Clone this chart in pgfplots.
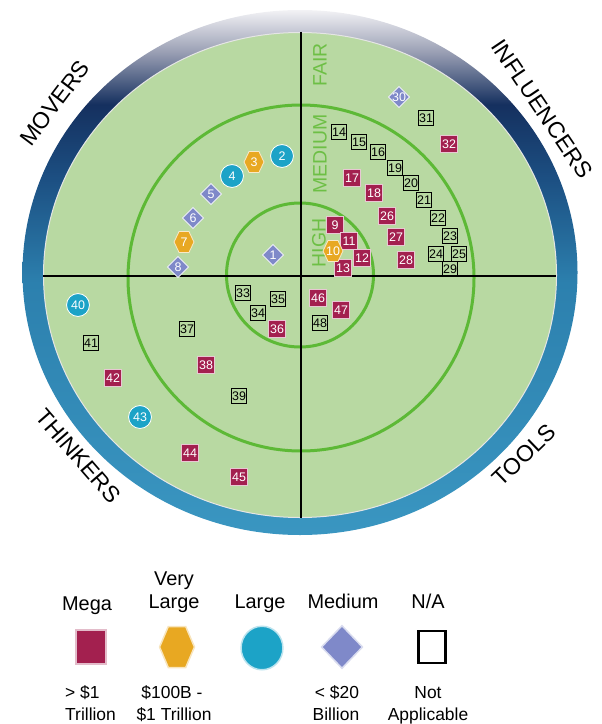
\documentclass[border=0pt]{standalone}
\usepackage{pgfplots}
\pgfplotsset{compat=1.18}
\usepackage{fontspec}
\setmainfont{Liberation Sans}

\definecolor{mega}{HTML}{A3204F}
\definecolor{vlarge}{HTML}{E8A822}
\definecolor{large}{HTML}{1CA3C7}
\definecolor{medium}{HTML}{7F89C9}
\definecolor{disk}{HTML}{B8D9A2}
\definecolor{ringc}{HTML}{5DB936}
\definecolor{zone}{HTML}{6DBF45}
\definecolor{rbot}{HTML}{3A96C1}
\definecolor{rmid}{HTML}{2C80AE}
\definecolor{rdark}{HTML}{1C4F82}
\definecolor{rnavy}{HTML}{15305F}
\definecolor{rgray}{HTML}{9A9FB4}
\definecolor{rtop}{HTML}{F2F2F5}

\pgfdeclareverticalshading{ringshade}{100bp}{color(0bp)=(rbot); color(25bp)=(rbot); color(49bp)=(rmid); color(59bp)=(rdark); color(66bp)=(rnavy); color(71bp)=(rgray); color(75bp)=(rtop); color(100bp)=(rtop)}

% flat-topped hexagon and square diamond marks
\pgfdeclareplotmark{hexa*}{%
  \pgfpathmoveto{\pgfqpoint{\pgfplotmarksize}{0pt}}%
  \pgfpathlineto{\pgfqpoint{.5\pgfplotmarksize}{1.05\pgfplotmarksize}}%
  \pgfpathlineto{\pgfqpoint{-.5\pgfplotmarksize}{1.05\pgfplotmarksize}}%
  \pgfpathlineto{\pgfqpoint{-\pgfplotmarksize}{0pt}}%
  \pgfpathlineto{\pgfqpoint{-.5\pgfplotmarksize}{-1.05\pgfplotmarksize}}%
  \pgfpathlineto{\pgfqpoint{.5\pgfplotmarksize}{-1.05\pgfplotmarksize}}%
  \pgfpathclose
  \pgfusepathqfillstroke}
\pgfdeclareplotmark{dia*}{%
  \pgfpathmoveto{\pgfqpoint{\pgfplotmarksize}{0pt}}%
  \pgfpathlineto{\pgfqpoint{0pt}{\pgfplotmarksize}}%
  \pgfpathlineto{\pgfqpoint{-\pgfplotmarksize}{0pt}}%
  \pgfpathlineto{\pgfqpoint{0pt}{-\pgfplotmarksize}}%
  \pgfpathclose
  \pgfusepathqfillstroke}

\newcommand{\numfont}{\fontsize{12.5}{12.5}\selectfont}
\newcommand{\quadfont}{\fontsize{23}{23}\selectfont}
\newcommand{\zonefont}{\fontsize{19.5}{19.5}\selectfont}
\newcommand{\legfont}{\fontsize{20}{20}\selectfont}
\newcommand{\descfont}{\fontsize{17.5}{17.5}\selectfont}

\pgfplotsset{
  labelled/.style={only marks,
    visualization depends on={value \thisrow{n}\as\lbl},
    nodes near coords={\lbl},
    nodes near coords style={anchor=center, inner sep=0pt, font=\numfont, text=#1}},
}

\begin{document}
\begin{tikzpicture}
\useasboundingbox (0,0) rectangle (602bp,724bp);
\begin{axis}[at={(0,0)}, anchor=south west, scale only axis,
  width=602bp, height=724bp,
  xmin=0, xmax=602, ymin=0, ymax=724, y dir=reverse,
  hide axis, clip=false]

% background rings and cross
\shade[shading=ringshade] (axis cs:300,272.5) ellipse [x radius=277.5bp, y radius=262.5bp];
\fill[disk, draw=white!80!gray, line width=1bp] (axis cs:300,275) ellipse [x radius=256.5bp, y radius=242.5bp];
\draw[ringc, line width=3bp] (axis cs:301,278) circle [radius=173bp];
\draw[ringc, line width=3bp] (axis cs:300,275) ellipse [x radius=73.5bp, y radius=72bp];
\draw[black, line width=2bp] (axis cs:43,276) -- (axis cs:556,276);
\draw[black, line width=2bp] (axis cs:301,32) -- (axis cs:301,518);

% zone and quadrant labels
\node[rotate=90, text=zone, font=\zonefont] at (axis cs:320,65) {FAIR};
\node[rotate=90, text=zone, font=\zonefont] at (axis cs:320,154) {MEDIUM};
\node[rotate=90, text=zone, font=\zonefont] at (axis cs:319,243) {HIGH};
\node[rotate=53, font=\quadfont] at (axis cs:55,103) {MOVERS};
\node[rotate=-56, font=\quadfont] at (axis cs:542,109) {INFLUENCERS};
\node[rotate=-49, font=\quadfont] at (axis cs:78,456) {THINKERS};
\node[rotate=44, font=\quadfont] at (axis cs:524,455) {TOOLS};

% Mega
\addplot[labelled=white, mark=square*, mark size=8.3,
  mark options={fill=mega, draw=white!75!mega, line width=0.8bp}]
table{
x y n
335 225 9
349 241 11
362 258 12
343 268 13
352 178 17
374 193 18
387 216 26
396 237 27
406 260 28
449 144 32
277 329 36
206 365 38
113 378 42
190 453 44
239 477 45
318 298 46
341 310 47
};
% Very Large
\addplot[labelled=white, mark=hexa*, mark size=10,
  mark options={fill=vlarge, draw=white!75!vlarge, line width=0.8bp}]
table{
x y n
254 162 3
184 242 7
333 251 10
};
% Large
\addplot[labelled=white, mark=*, mark size=11.5,
  mark options={fill=large, draw=white, line width=0.8bp}]
table{
x y n
282 156 2
232 176 4
78 305 40
140 417 43
};
% Medium
\addplot[labelled=white, mark=dia*, mark size=10.5,
  mark options={fill=medium, draw=white!85!medium, line width=0.8bp}]
table{
x y n
273 255 1
211 194 5
193 218 6
178 267 8
399 97 30
};
% N/A
\addplot[labelled=black, mark=square, mark size=7.2,
  mark options={draw=black, fill=none, line width=1.2bp}]
table{
x y n
339 132 14
359 142 15
378 152 16
395 168 19
411 183 20
424 200 21
438 218 22
450 236 23
436 254 24
459 254 25
450 269 29
426 118 31
243 293 33
258 313 34
278 299 35
187 329 37
239 396 39
91 343 41
320 323 48
};

% legend
\addplot[only marks, mark=square*, mark size=15,
  mark options={fill=mega, draw=white!70!mega, line width=1.5bp, yscale=1.15}]
  coordinates {(91,647)};
\addplot[only marks, mark=hexa*, mark size=17.5,
  mark options={fill=vlarge, draw=white!70!vlarge, line width=1.5bp, yscale=1.12}]
  coordinates {(177,647)};
\addplot[only marks, mark=*, mark size=21,
  mark options={fill=large, draw=white!70!large, line width=1.5bp, yscale=1.04}]
  coordinates {(262,648)};
\addplot[only marks, mark=dia*, mark size=20.5,
  mark options={fill=medium, draw=white!70!medium, line width=1.5bp, yscale=1.04}]
  coordinates {(342,647)};
\addplot[only marks, mark=square, mark size=13.5,
  mark options={draw=black, fill=none, line width=2.2bp, yscale=1.18}]
  coordinates {(432,647)};

\node[anchor=base, font=\legfont] at (axis cs:87,610) {Mega};
\node[anchor=base, font=\legfont] at (axis cs:174,585) {Very};
\node[anchor=base, font=\legfont] at (axis cs:174,608) {Large};
\node[anchor=base, font=\legfont] at (axis cs:260,608) {Large};
\node[anchor=base, font=\legfont] at (axis cs:343,608) {Medium};
\node[anchor=base, font=\legfont] at (axis cs:428,608) {N/A};

\node[anchor=base west, inner sep=0pt, font=\descfont] at (axis cs:65,698) {> \$1};
\node[anchor=base west, inner sep=0pt, font=\descfont] at (axis cs:65,720) {Trillion};
\node[anchor=base, font=\descfont] at (axis cs:172,698) {\$100B -};
\node[anchor=base, font=\descfont] at (axis cs:174,720) {\$1 Trillion};
\node[anchor=base, font=\descfont] at (axis cs:337,698) {< \$20};
\node[anchor=base, font=\descfont] at (axis cs:336,720) {Billion};
\node[anchor=base, font=\descfont] at (axis cs:428,698) {Not};
\node[anchor=base, font=\descfont] at (axis cs:428,720) {Applicable};
\end{axis}
\end{tikzpicture}
\end{document}
